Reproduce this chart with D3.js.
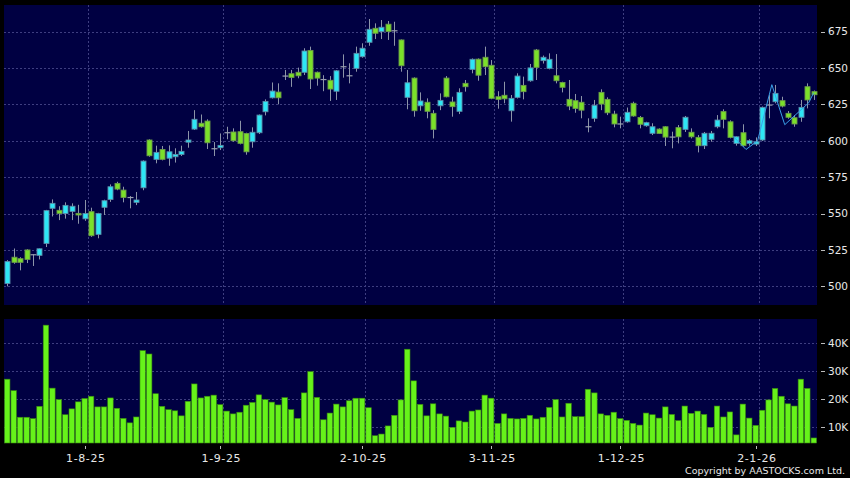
<!DOCTYPE html>
<html>
<head>
<meta charset="utf-8">
<script src="https://cdn.jsdelivr.net/npm/d3@7"></script>
<style>
    body { margin: 0; background: #000; }
    svg { display: block; }
    text { font-family: "DejaVu Sans", Verdana, sans-serif; fill: #e8e8e8; }
</style>
</head>
<body>
<div id="chart"></div>
<script>
// Daily candles, 15-7-25 .. 14-1-26 (index = trading day)
const opens = [502, 520, 519, 525, 521.7, 521.3, 529.5, 553.6, 552.2, 550, 551.5, 550.1, 546.4, 551.3, 535.7, 554.3, 559.7, 570.7, 566.1, 561,
    557.7, 567.7, 600.5, 587.2, 594, 588, 589, 590.6, 599, 608, 612, 613.5, 594.5, 595.2, 605.5, 606, 606.2, 605, 599.3, 605.5,
    619.9, 629.5, 633.4, 644.4, 646, 647, 647, 662, 647, 642, 641.5, 634, 650.8, 644.6, 649.7, 657.7, 667.6, 677.2, 674.9, 680,
    675.5, 669.2, 629.8, 643, 624, 626.4, 618.8, 624, 643, 626.6, 620.2, 639.4, 649, 656, 657.3, 651.8, 630.2, 631.2, 620.6, 629.8,
    638, 641.2, 662.3, 655, 649.7, 644.6, 640, 628.4, 627.5, 626.4, 609.6, 615.4, 633.2, 628.4, 618.3, 611.5, 613, 625.7, 616, 610.3,
    605.1, 608, 609.6, 602.5, 609, 607.8, 605.8, 602.3, 596.6, 601, 609.6, 620, 613, 598.2, 605.5, 598.2, 597.7, 600.5, 624.5, 626.8,
    627.5, 618.8, 615.8, 616.1, 637.1, 633.7];
const highs = [518, 526, 520, 525.5, 522, 526, 552.5, 559.7, 555, 557.7, 557, 556, 559.3, 554, 550.5, 559.5, 570, 571.8, 568.4, 562,
    564.8, 586.5, 601, 596.6, 596.4, 596.8, 594.8, 596.6, 606.7, 621, 618, 614.7, 599.1, 605, 609.6, 608.5, 613.7, 605.5, 609.2, 618,
    628.4, 640, 639.4, 648.6, 648.6, 650.2, 663.5, 664.6, 647.5, 645, 644.4, 648.5, 659.3, 653.2, 664.6, 666.9, 683.6, 680.6, 682.9, 682.2,
    681.7, 669.5, 648.6, 643.5, 633.2, 629.1, 621, 632.5, 644.4, 630.2, 636, 641.7, 656.5, 656.5, 664.6, 655.4, 634, 640.5, 631.4, 646.3,
    644, 652.7, 663, 658.5, 660, 659.5, 640.5, 641.7, 632.1, 630.7, 615.4, 628, 635.3, 629.8, 620.6, 616.5, 622.8, 626.8, 617, 613,
    612, 608.5, 610, 606.2, 610.8, 617, 608.5, 603.9, 606, 606.7, 617.6, 621.6, 614, 603, 611.3, 601, 602.3, 623.5, 631.3, 638.3,
    630.2, 620.4, 617.6, 628, 639.4, 634.5];
const lows = [500, 515.5, 511, 516, 514, 518.5, 527, 548, 545.5, 546.5, 545.5, 543, 545, 534, 533, 549, 558, 566, 557.7, 553.6,
    555.8, 566, 589, 584.5, 586.5, 582.8, 585, 589.5, 595.2, 607.4, 609, 594.3, 589.5, 593.6, 601, 599.3, 597.5, 590.4, 595.2, 604.6,
    617.4, 629, 625, 641.7, 637, 642.9, 645.1, 635.5, 637.8, 634, 627.3, 628, 643.3, 639.4, 647.4, 657, 665.2, 669.8, 669.8, 669.2,
    665.2, 647.4, 621.6, 616.5, 620.6, 615.4, 601.6, 621, 629.8, 616.5, 618.3, 633.7, 646.3, 641.2, 645.1, 628.5, 622, 625.7, 613.1, 629,
    628.4, 640.5, 641.7, 653, 649, 639.4, 633.2, 621, 619.2, 615.4, 605.8, 613, 621, 617.6, 609.2, 608.5, 612.4, 616.5, 608.5, 609.6,
    603.9, 604.6, 596.4, 594.8, 598.2, 606, 601.6, 592, 594.3, 599.3, 608.5, 608.5, 601.6, 596.6, 595.9, 596.6, 596.4, 599.8, 615.4, 625.7,
    622.9, 615.1, 609.6, 613, 622.2, 628];
const closes = [517, 516.5, 516.5, 518.5, 521.7, 525.8, 552, 557, 550, 555.6, 555, 549, 550, 534.8, 550, 558.8, 568.4, 566.8, 561.1, 561,
    559.3, 586, 589.7, 592, 587.2, 592.4, 590.6, 592.7, 600.5, 614.7, 609.6, 598.6, 594.5, 596.8, 605.5, 600, 598.2, 592.4, 605.8, 617.6,
    627, 634.1, 629.5, 644.4, 643.5, 644.6, 661.6, 642.4, 643, 642, 635.5, 648, 650.8, 644.6, 660, 663.5, 676.5, 673.8, 677.9, 675,
    675.5, 651.5, 639.8, 620.6, 627.3, 620.2, 607.8, 627.7, 630.2, 623.4, 633.2, 637.1, 655.9, 645, 650.8, 629.1, 628.4, 628.8, 629.1, 644.4,
    633.7, 650, 650.4, 657.3, 655.9, 641.2, 636.7, 623.8, 622.2, 621, 609.6, 624.3, 625.2, 619.2, 611.5, 611.5, 619.5, 617, 611.3, 612.4,
    609.6, 605, 602.5, 602.5, 602.7, 616.1, 602.7, 596.6, 605.1, 605.1, 614.2, 614.7, 602.3, 602.7, 596.6, 600, 599.3, 622.9, 624.5, 632.5,
    623.8, 616.1, 611.5, 622.9, 628, 631.6];
// volume in thousands
const volumes = [27.2, 23.1, 13.6, 13.6, 13.1, 17.5, 46.5, 24, 19.9, 14.5, 16.6, 19.1, 20.3, 21.1, 17.3, 17.3, 20.5, 16.8, 13.2, 11.6,
    13.7, 37.4, 36.2, 22, 17.5, 16.3, 15.9, 14.1, 19.3, 25.5, 20.5, 21.1, 21.5, 18.1, 15.8, 14.8, 15.4, 17.9, 18.9, 21.6,
    19.9, 19, 18, 20.6, 16.3, 13.2, 22.3, 29.9, 20.7, 12.7, 15.1, 18.3, 17.3, 19.5, 20.4, 20.4, 17, 7, 7.6, 10.5,
    14.3, 19.8, 37.9, 26.6, 18.2, 14.1, 18.4, 14.8, 14, 10, 12.3, 11.9, 15.8, 16.2, 21.5, 20.4, 11.4, 14.8, 13.2, 13,
    13.2, 14.3, 13, 13.6, 17.1, 19.9, 13.7, 18.6, 13.8, 13.8, 23.6, 22.3, 14.8, 14.3, 15.4, 13.1, 12.5, 11.4, 10.8, 15.1,
    14.5, 13.3, 17.3, 14.6, 12.4, 17.6, 15, 15.8, 14.6, 10, 17.6, 13.7, 15.5, 7.3, 18.3, 13.3, 10.7, 16.1, 19.8, 23.9,
    21.1, 18.4, 17.6, 27.2, 23.9, 6.2];

// thin overlay line at the right end
const lineIdx = [112.5, 114.5, 116.3, 118.5, 120.5, 124.2, 125];
const lineVals = [603, 594, 600, 638.5, 611, 626, 633];

const tickIdx = [13, 34, 56, 76, 96, 117];
const tickLabels = ['1-8-25', '1-9-25', '2-10-25', '3-11-25', '1-12-25', '2-1-26'];
const priceTicks = [500, 525, 550, 575, 600, 625, 650, 675];
const volTicks = [10, 20, 30, 40];

const width = 850;
const height = 478;
const left = 4, right = 817;
const priceTop = 5, priceBottom = 305;
const volTop = 319, volBottom = 443;

const svg = d3.select('#chart').append('svg')
    .attr('width', width)
    .attr('height', height);

svg.append('rect').attr('width', width).attr('height', height).attr('fill', '#000');

// panels
svg.append('rect').attr('x', left).attr('y', priceTop)
    .attr('width', right - left).attr('height', priceBottom - priceTop).attr('fill', '#000042');
svg.append('rect').attr('x', left).attr('y', volTop)
    .attr('width', right - left).attr('height', volBottom - volTop).attr('fill', '#000042');

const xScale = d3.scaleBand()
    .domain(d3.range(closes.length))
    .range([left, right])
    .padding(0);
const step = xScale.step();
const xc = i => left + step * (i + 0.5);

const yPrice = d3.scaleLinear().domain([487.2, 693.2]).range([priceBottom, priceTop]);
const yVol = d3.scaleLinear().domain([4.4, 48.7]).range([volBottom, volTop]);

const gridColor = '#3e3e80';

// horizontal grid + right axis labels
function drawYAxis(scale, ticks, fmt, x1, x2) {
    const g = svg.append('g');
    g.selectAll('line.grid').data(ticks).enter().append('line')
        .attr('x1', x1).attr('x2', x2)
        .attr('y1', d => Math.round(scale(d)) + 0.5).attr('y2', d => Math.round(scale(d)) + 0.5)
        .attr('stroke', gridColor).attr('stroke-width', 1).attr('stroke-dasharray', '2,2');
    g.selectAll('line.tick').data(ticks).enter().append('line')
        .attr('x1', 821).attr('x2', 825)
        .attr('y1', d => Math.round(scale(d)) + 0.5).attr('y2', d => Math.round(scale(d)) + 0.5)
        .attr('stroke', '#bbb');
    g.selectAll('text').data(ticks).enter().append('text')
        .attr('x', 828).attr('y', d => scale(d))
        .attr('dy', '0.36em')
        .attr('font-size', '10.5px')
        .text(fmt);
}
drawYAxis(yPrice, priceTicks, d => d, left, right);
drawYAxis(yVol, volTicks, d => d + 'K', left, right);

// vertical grid at first trading day of each month
[[priceTop, priceBottom], [volTop, volBottom]].forEach(([t, b]) => {
    svg.append('g').selectAll('line').data(tickIdx).enter().append('line')
        .attr('x1', d => Math.round(xScale(d)) + 0.5).attr('x2', d => Math.round(xScale(d)) + 0.5)
        .attr('y1', t).attr('y2', b)
        .attr('stroke', gridColor).attr('stroke-dasharray', '2,2');
});

// x axis labels
const xAxis = svg.append('g');
xAxis.selectAll('line').data(tickIdx).enter().append('line')
    .attr('x1', d => Math.round(xScale(d)) - 2.5).attr('x2', d => Math.round(xScale(d)) - 2.5)
    .attr('y1', 446).attr('y2', 449)
    .attr('stroke', '#bbb');
xAxis.selectAll('text').data(tickIdx).enter().append('text')
    .attr('x', d => xScale(d) - 2)
    .attr('y', 462)
    .attr('text-anchor', 'middle')
    .attr('font-size', '11px')
    .attr('letter-spacing', '0.6px')
    .text((d, i) => tickLabels[i]);

// candles
const candles = svg.append('g');
const bodyW = 5;
closes.forEach((c, i) => {
    const o = opens[i];
    const x = Math.round(xc(i)) + 0.5;
    const up = c > o, flat = c === o;
    candles.append('line')
        .attr('x1', x).attr('x2', x)
        .attr('y1', yPrice(highs[i])).attr('y2', yPrice(lows[i]))
        .attr('stroke', '#8c94a8').attr('stroke-width', 1);
    if (flat) {
        candles.append('line')
            .attr('x1', x - 3).attr('x2', x + 3)
            .attr('y1', yPrice(o)).attr('y2', yPrice(o))
            .attr('stroke', '#9aa0b0').attr('stroke-width', 1.2);
    } else {
        const yt = yPrice(Math.max(o, c)), yb = yPrice(Math.min(o, c));
        candles.append('rect')
            .attr('x', x - bodyW / 2).attr('y', yt)
            .attr('width', bodyW).attr('height', Math.max(yb - yt, 1.5))
            .attr('fill', up ? '#2ee6f5' : '#7be02a')
            .attr('stroke', up ? '#5a8ca8' : '#6a9a48')
            .attr('stroke-width', 0.9);
    }
});

// overlay line
svg.append('path')
    .datum(lineIdx.map((d, i) => [xc(d), yPrice(lineVals[i])]))
    .attr('d', d3.line())
    .attr('fill', 'none')
    .attr('stroke', '#3aa0e8')
    .attr('stroke-width', 1);

// volume bars
svg.append('g').selectAll('rect').data(volumes).enter().append('rect')
    .attr('x', (d, i) => xScale(i) + 0.5)
    .attr('y', d => yVol(d))
    .attr('width', step - 1)
    .attr('height', d => volBottom - yVol(d))
    .attr('fill', '#66f21a')
    .attr('stroke', '#3a8a10')
    .attr('stroke-width', 0.6);

svg.append('text')
    .attr('x', 845).attr('y', 474)
    .attr('text-anchor', 'end')
    .attr('font-size', '9.5px')
    .text('Copyright by AASTOCKS.com Ltd.');
</script>
</body>
</html>
